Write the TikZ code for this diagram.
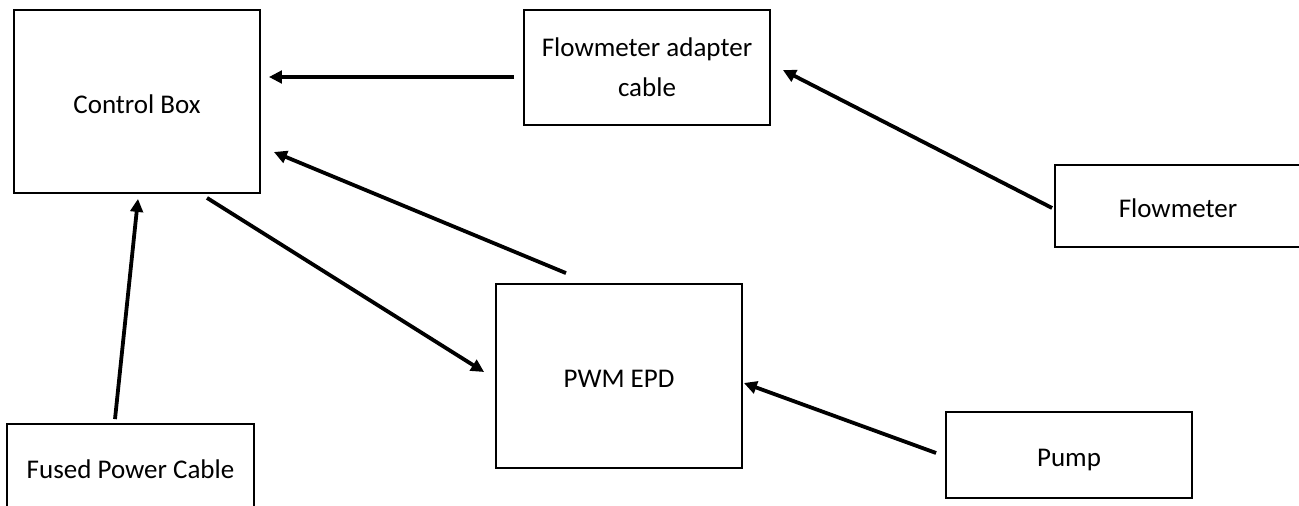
\documentclass[tikz,border=0pt]{standalone}
\usepackage{fontspec}
\setmainfont{Carlito}
\usetikzlibrary{arrows.meta}
\begin{document}
\begin{tikzpicture}[x=1pt,y=-1pt,
  box/.style={draw=black,line width=1.8pt,minimum width=246pt,inner sep=0pt,
    font=\fontsize{27}{40}\selectfont,align=center},
  one/.style={text height=23pt,text depth=0pt},
  arr/.style={line width=3.8pt,-{Triangle[length=13pt,width=12.5pt]}}]
\useasboundingbox (0,0) rectangle (1299,506);
\clip (0,0) rectangle (1299,506);
\node[box,one,minimum height=183pt] (cb) at (137,101.5) {Control Box};
\node[box,minimum height=115pt] (ad) at (647,67.5) {\raisebox{-2pt}{Flowmeter adapter}\\\raisebox{-2pt}{cable}};
\node[box,one,minimum height=82pt] (fm) at (1178,206) {Flowmeter};
\node[box,one,minimum height=184pt] (pwm) at (619,376) {PWM EPD};
\node[box,one,minimum height=86pt] (pump) at (1069,455) {Pump};
\node[box,one,minimum height=86pt,minimum width=247pt] (fpc) at (130.5,467) {Fused Power Cable};
\draw[arr] ([shift={(-9,9.5)}]ad.west) -- ([shift={(8,-24.5)}]cb.east);
\draw[arr] ([shift={(-2,2)}]fm.west) -- ([shift={(12,2.5)}]ad.east);
\draw[arr] ([shift={(-53,-10)}]pwm.north) -- ([shift={(13,50.5)}]cb.east);
\draw[arr] ([shift={(70,4)}]cb.south) -- ([shift={(-11,-4)}]pwm.west);
\draw[arr] ([shift={(-9,-2)}]pump.west) -- ([shift={(1,7)}]pwm.east);
\draw[arr] ([shift={(-15.5,-4)}]fpc.north) -- ([shift={(1,5)}]cb.south);
\end{tikzpicture}
\end{document}
